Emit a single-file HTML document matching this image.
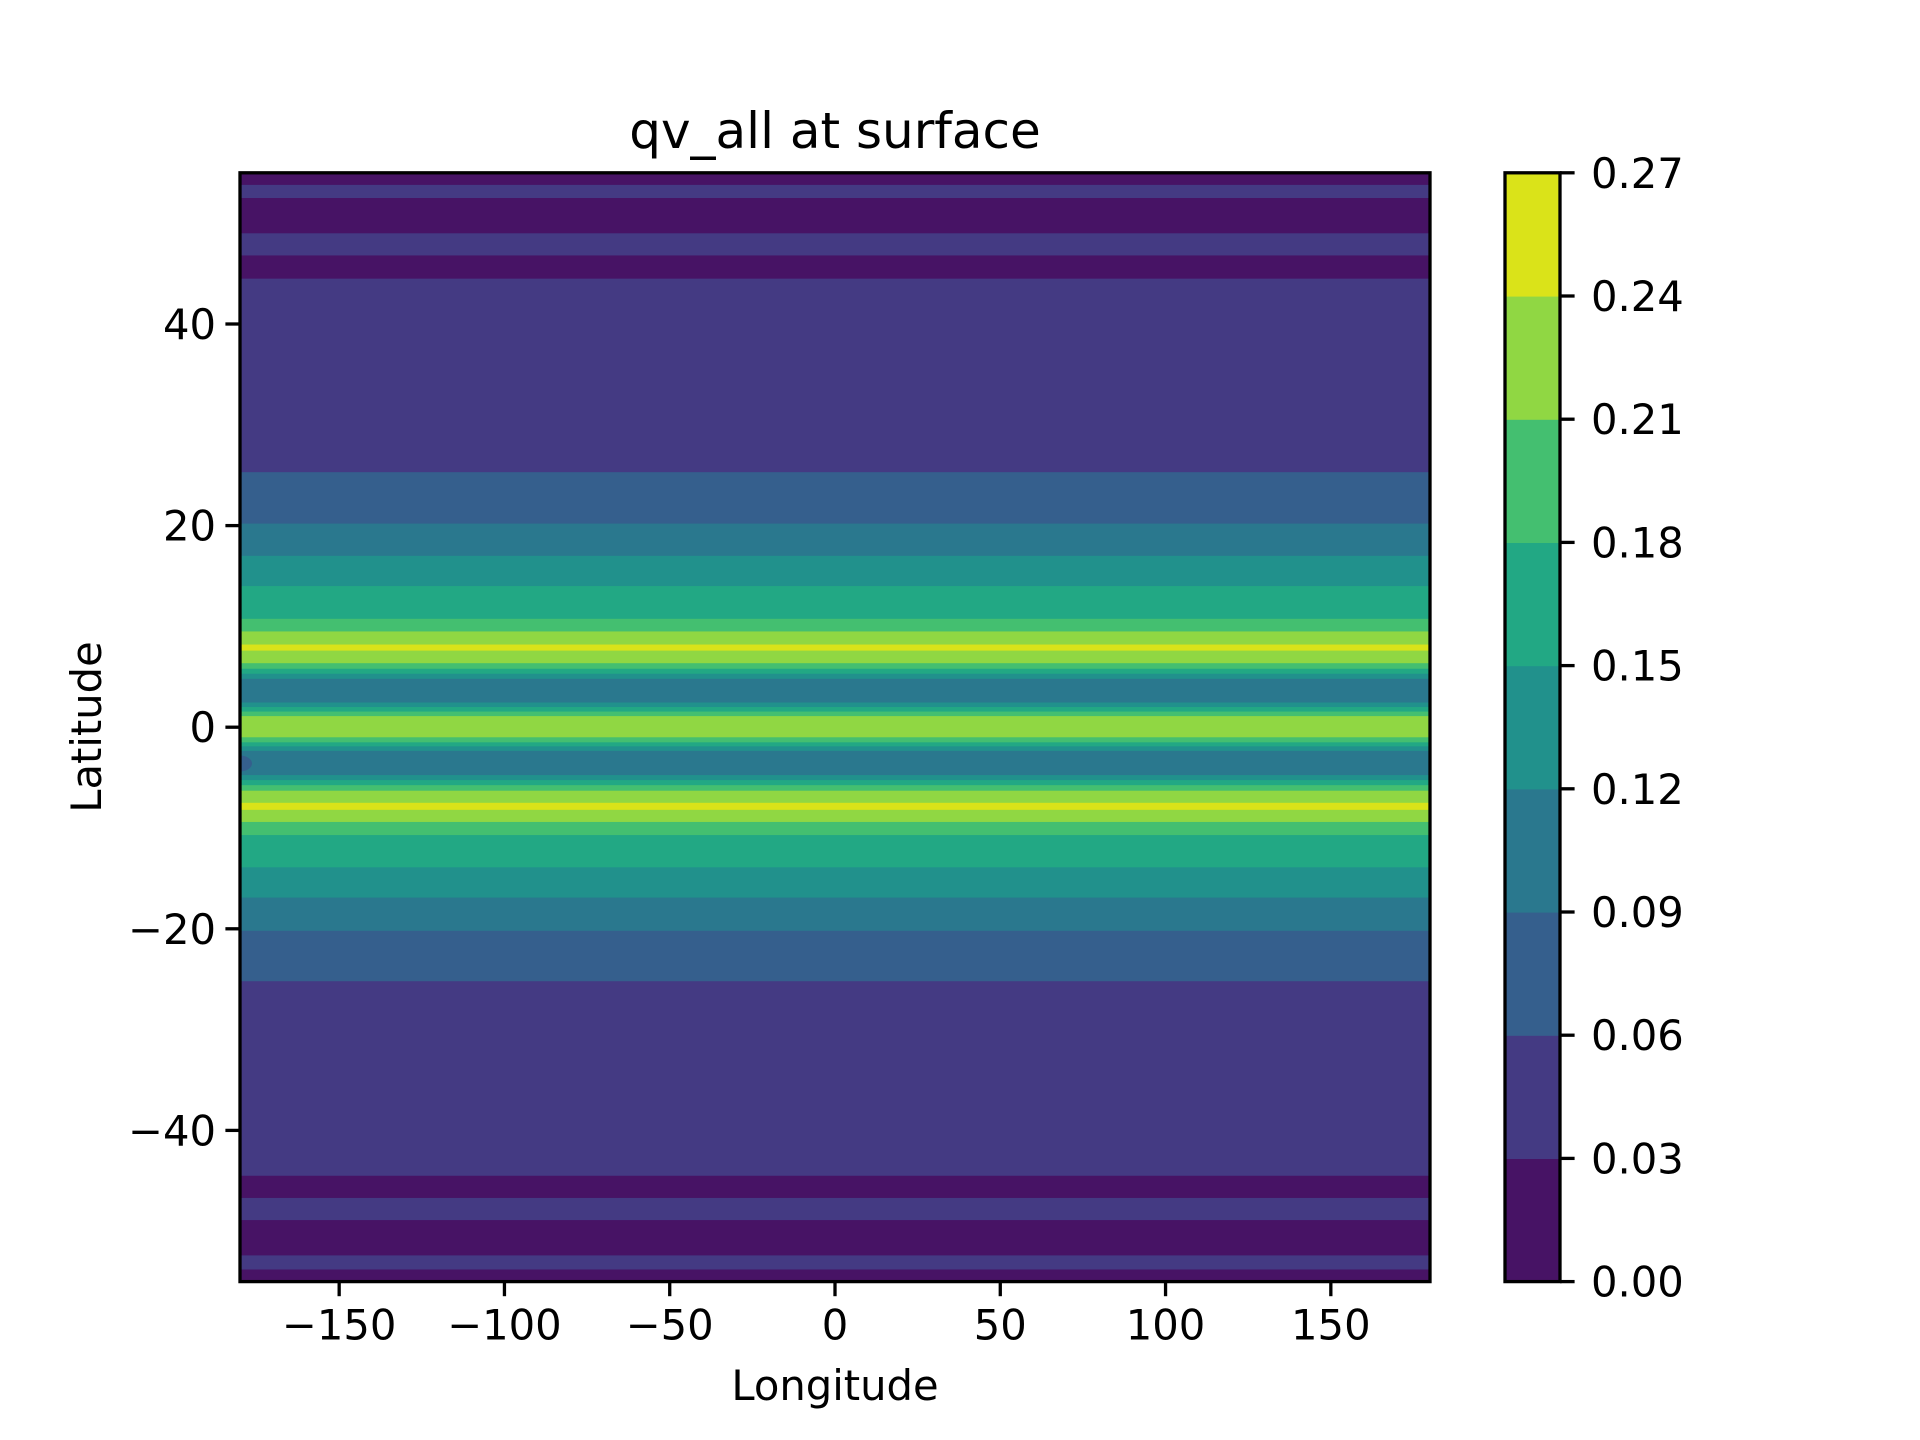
<!DOCTYPE html>
<html><head><meta charset="utf-8"><style>
html,body{margin:0;padding:0;background:#fff;}
svg{display:block;font-family:"DejaVu Sans","Liberation Sans",sans-serif;}
</style></head><body>
<svg id="chart" width="1920" height="1440" viewBox="0 0 1920 1440" xmlns="http://www.w3.org/2000/svg">
<defs><clipPath id="pclip"><rect x="240" y="172.8" width="1190" height="1108.8"/></clipPath></defs>
<rect width="1920" height="1440" fill="#fff"/>
<g id="plot" clip-path="url(#pclip)"></g>
<g id="axes"></g>
<g id="cbar"></g>
<text x="835" y="148" font-size="50" text-anchor="middle">qv_all at surface</text>
<text x="835" y="1400" font-size="41.7" text-anchor="middle">Longitude</text>
<text transform="translate(101,727) rotate(-90)" font-size="41.7" text-anchor="middle">Latitude</text>
</svg>
<script>
// Latitude band boundaries (top edge, bottom edge) and contour level index
const bandTop = [55,53.8,52.5,49,46.8,44.5,25.3,20.2,17,14,10.75,9.5,8.2,7.6,6.35,5.8,5.3,4.8,2.45,2.0,1.55,1.1,-1.0,-1.5,-1.9,-2.35,-4.75,-5.25,-5.75,-6.3,-7.5,-8.2,-9.4,-10.7,-13.9,-16.9,-20.2,-25.2,-44.5,-46.7,-48.9,-52.4,-53.8];
const bandBottom = [53.8,52.5,49,46.8,44.5,25.3,20.2,17,14,10.75,9.5,8.2,7.6,6.35,5.8,5.3,4.8,2.45,2.0,1.55,1.1,-1.0,-1.5,-1.9,-2.35,-4.75,-5.25,-5.75,-6.3,-7.5,-8.2,-9.4,-10.7,-13.9,-16.9,-20.2,-25.2,-44.5,-46.7,-48.9,-52.4,-53.8,-55];
const bandLevel = [0,1,0,1,0,1,2,3,4,5,6,7,8,7,6,5,4,3,4,5,6,7,6,5,4,3,4,5,6,7,8,7,6,5,4,3,2,1,0,1,0,1,0];
const levelValues = [0,0.03,0.06,0.09,0.12,0.15,0.18,0.21,0.24,0.27];
const levelColors = ["#471365","#443a83","#355f8d","#2a788e","#21918c","#22a884","#44bf70","#90d743","#dae319"];
const xTicks = [-150,-100,-50,0,50,100,150];
const yTicks = [-40,-20,0,20,40];
const cbTickLabels = ["0.00","0.03","0.06","0.09","0.12","0.15","0.18","0.21","0.24","0.27"];

const NS="http://www.w3.org/2000/svg";
const L=240,R=1430,T=172.8,B=1281.6;
const xs=v=>L+(v+180)/360*(R-L);
const ys=v=>T+(55-v)/110*(B-T);
const CL=1505,CR=1560;
const cs=v=>B-(v-0)/0.27*(B-T);
function mk(tag,attrs,parent){const e=document.createElementNS(NS,tag);for(const k in attrs)e.setAttribute(k,attrs[k]);parent.appendChild(e);return e;}
const plot=document.getElementById('plot'),axes=document.getElementById('axes'),cbar=document.getElementById('cbar');
for(let i=0;i<bandTop.length;i++){
  const y0=ys(bandTop[i]),y1=ys(bandBottom[i]);
  const r=mk('rect',{x:L,y:y0,width:R-L,height:y1-y0+0.6,fill:levelColors[bandLevel[i]]},plot);
  
  
}
const blob=mk('ellipse',{cx:L,cy:ys(-3.6),rx:12,ry:8,fill:levelColors[2]},plot);


const frame=mk('rect',{x:L,y:T,width:R-L,height:B-T,fill:'none',stroke:'#000','stroke-width':3.3},axes);


xTicks.forEach(v=>{
  const x=xs(v);
  const t=mk('line',{x1:x,x2:x,y1:B,y2:B+14.6,stroke:'#000','stroke-width':3.3},axes);
  
  
  const lb=mk('text',{x:x,y:B+58,'font-size':41.7,'text-anchor':'middle'},axes);
  lb.textContent=v<0?'\u2212'+(-v):String(v);
  
  
});
yTicks.forEach(v=>{
  const y=ys(v);
  const t=mk('line',{x1:L-14.6,x2:L,y1:y,y2:y,stroke:'#000','stroke-width':3.3},axes);
  
  
  const lb=mk('text',{x:L-24,y:y+15,'font-size':41.7,'text-anchor':'end'},axes);
  lb.textContent=v<0?'\u2212'+(-v):String(v);
  
  
});
for(let i=0;i<levelColors.length;i++){
  const y0=cs(levelValues[i+1]),y1=cs(levelValues[i]);
  const r=mk('rect',{x:CL,y:y0,width:CR-CL,height:y1-y0+0.6,fill:levelColors[i]},cbar);
  
  
}
const cf=mk('rect',{x:CL,y:T,width:CR-CL,height:B-T,fill:'none',stroke:'#000','stroke-width':3.3},cbar);


cbTickLabels.forEach((s,i)=>{
  const y=cs(levelValues[i]);
  const t=mk('line',{x1:CR,x2:CR+14.6,y1:y,y2:y,stroke:'#000','stroke-width':3.3},cbar);
  
  
  const lb=mk('text',{x:CR+31,y:y+15,'font-size':41.7},cbar);
  lb.textContent=s;
  
  
});
</script>
</body></html>
